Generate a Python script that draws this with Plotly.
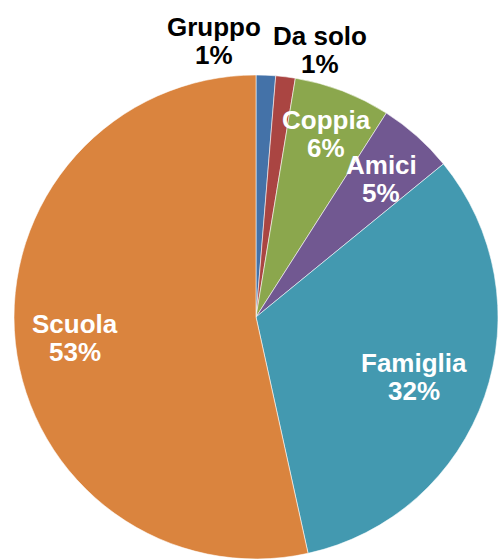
import math
import plotly.graph_objects as go

# dati (percentuali)
categorie = ["Gruppo", "Da solo", "Coppia", "Amici", "Famiglia", "Scuola"]
valori = [1.3, 1.3, 6.45, 5.05, 32.45, 53.45]
colori = ["#4472A8", "#AA4542", "#8BA74D", "#715891", "#4399B0", "#DA843E"]

# stile delle etichette: distanza dal centro (frazione del raggio), spostamento angolare, colore
etichetta_raggio = [1.155, 1.136, 0.81, 0.77, 0.70, 0.755]
etichetta_spost = [-11.0, 6.4, 0.0, 0.5, 1.7, -0.4]
etichetta_colore = ["black", "black", "white", "white", "white", "white"]

W, H = 498, 559
# centro del disco a (256, 317) px, raggio 242 px
dom_x = [14 / W, 1.0]
dom_y = [0.0, 484 / H]

fig = go.Figure(go.Pie(
    labels=categorie,
    values=valori,
    sort=False,
    direction="clockwise",
    rotation=0,
    textinfo="none",
    hoverinfo="label+percent",
    marker=dict(colors=colori, line=dict(color="rgba(255,255,255,0.7)", width=0.8)),
    domain=dict(x=dom_x, y=dom_y),
    showlegend=False,
))

# centro e raggio come li calcola plotly dal dominio
cx = W * (dom_x[0] + dom_x[1]) / 2
cy = H * (1 - (dom_y[0] + dom_y[1]) / 2)
R = min(W * (dom_x[1] - dom_x[0]), H * (dom_y[1] - dom_y[0])) / 2

totale = sum(valori)
font = dict(family="Arial, Liberation Sans, sans-serif", size=26, weight="bold")
annotazioni = []
cum = 0.0
for i, nome in enumerate(categorie):
    a0 = cum / totale * 360
    cum += valori[i]
    a1 = cum / totale * 360
    ang = math.radians((a0 + a1) / 2 + etichetta_spost[i])
    r = etichetta_raggio[i] * R
    px_x = cx + r * math.sin(ang)
    px_y = cy - r * math.cos(ang)
    pct = round(valori[i] / totale * 100)
    for testo, shift in [(nome, 14), (f"{pct}%", -14)]:
        annotazioni.append(dict(
            x=px_x / W, y=1 - px_y / H, xref="paper", yref="paper",
            text=testo, showarrow=False, xanchor="center", yanchor="middle",
            yshift=shift, font=dict(font, color=etichetta_colore[i]),
        ))

fig.update_layout(
    width=W,
    height=H,
    margin=dict(l=0, r=0, t=0, b=0),
    paper_bgcolor="white",
    plot_bgcolor="white",
    annotations=annotazioni,
)

# pagina senza margine e senza barre di scorrimento
fig.write_html(
    "out.html",
    config={"displayModeBar": False},
    post_script="document.body.style.margin = '0'; document.body.style.overflow = 'hidden';",
)
